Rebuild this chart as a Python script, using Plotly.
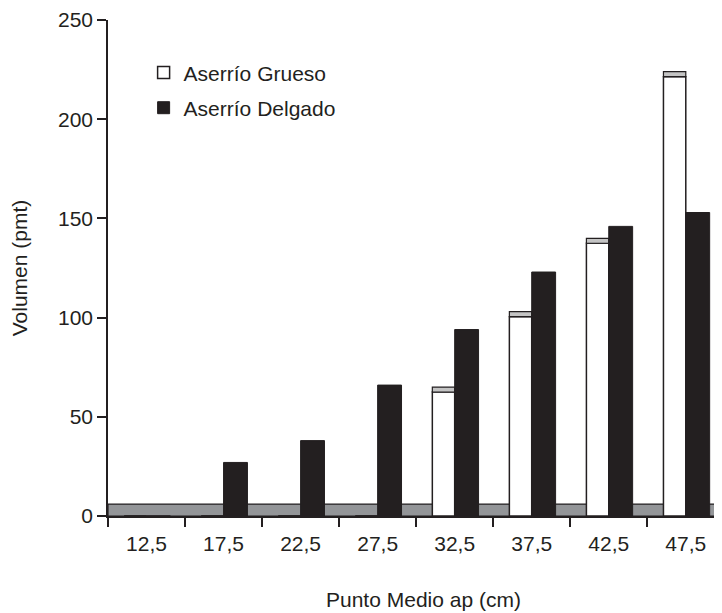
import plotly.graph_objects as go

categories = ["12,5", "17,5", "22,5", "27,5", "32,5", "37,5", "42,5", "47,5"]
grueso = [0, 0, 0, 0, 65, 103, 140, 224]
delgado = [0, 27, 38, 66, 94, 123, 146, 153]
y_ticks = [0, 50, 100, 150, 200, 250]
floor_level = 6
cap_size = 2.5

DARK = "#231f20"
FONT = "Liberation Sans, Arial, Helvetica, sans-serif"
FS = 21

cap = [cap_size if v > 0 else 0 for v in grueso]
base = [v - c for v, c in zip(grueso, cap)]

fig = go.Figure()
fig.add_trace(go.Bar(
    x=categories, y=base, name="Aserrío Grueso",
    marker=dict(color="white", line=dict(color=DARK, width=1.5)),
    width=0.29, offset=-0.29, legendgroup="g", legendrank=1,
))
fig.add_trace(go.Bar(
    x=categories, y=cap, base=base, name="cap", showlegend=False,
    marker=dict(color="#c4c4c4", line=dict(color=DARK, width=1.2)),
    width=0.29, offset=-0.29, legendgroup="g",
))
fig.add_trace(go.Bar(
    x=categories, y=delgado, name="Aserrío Delgado",
    marker=dict(color=DARK, line=dict(color=DARK, width=1)),
    width=0.31, offset=0.0, legendgroup="d", legendrank=2,
))

fig.add_shape(type="rect", xref="paper", yref="y", x0=0, x1=1, y0=0, y1=floor_level,
              fillcolor="#939598", line=dict(color=DARK, width=1.2), layer="below")

fig.add_annotation(text="Punto Medio ap (cm)", xref="paper", yref="paper",
                   x=0.514, y=-0.168, showarrow=False, xanchor="center", yanchor="middle",
                   font=dict(family=FONT, size=FS, color=DARK))

fig.update_layout(
    width=714, height=605,
    margin=dict(l=100, r=0, t=10, b=97),
    plot_bgcolor="white", paper_bgcolor="white",
    barmode="overlay",
    font=dict(family=FONT, size=FS, color=DARK),
    showlegend=True,
    legend=dict(x=0.058, y=0.935, xanchor="left", yanchor="top",
                traceorder="grouped", tracegroupgap=5,
                bgcolor="rgba(0,0,0,0)", font=dict(family=FONT, size=FS, color=DARK)),
    xaxis=dict(
        type="category", range=[-0.5, 7.47],
        showline=True, linecolor=DARK, linewidth=1.5,
        ticks="outside", tickson="boundaries", ticklen=9, tickwidth=1.5, tickcolor=DARK,
        showgrid=False, zeroline=False, ticklabelstandoff=8,
        tickfont=dict(family=FONT, size=FS, color=DARK),
    ),
    yaxis=dict(
        range=[0, 250.05], tickvals=y_ticks, ticklabeloverflow="allow",
        showline=True, linecolor=DARK, linewidth=1.5,
        ticks="outside", ticklen=9, tickwidth=1.5, tickcolor=DARK,
        showgrid=False, zeroline=False,
        tickfont=dict(family=FONT, size=FS, color=DARK),
        title=dict(text="Volumen (pmt)", font=dict(family=FONT, size=FS, color=DARK), standoff=25),
    ),
)

fig.write_html("out.html")
